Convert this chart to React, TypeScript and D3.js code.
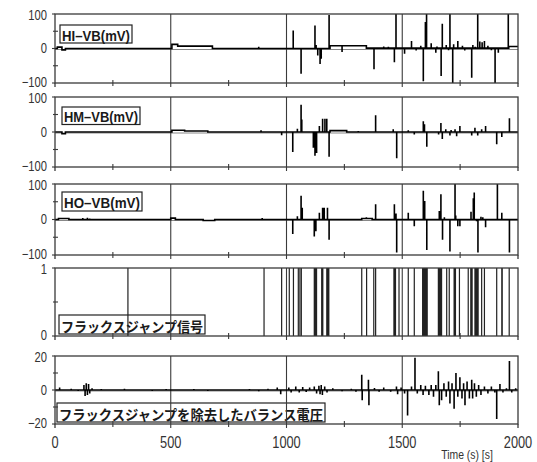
import React from 'react';
import * as d3 from 'd3';

// time axis
const xTicks = [0, 500, 1000, 1500, 2000];
const xMinor = [250, 750, 1250, 1750];

// HI-VB (mV): baseline steps and spikes [time, value]
const hiLevels: [number, number][] = [[0, 0], [10, 4], [30, -4], [45, 0], [505, 12], [530, 7], [680, 0], [1188, 8], [1345, 1], [1960, 6]];
const hiSpikes: [number, number][] = [
  [880, 5], [1029, 52], [1063, -73], [1123, 67], [1128, 10], [1135, -20], [1145, -45], [1150, -30],
  [1184, 97], [1240, -10], [1378, -60], [1420, 6], [1440, 5], [1466, -40], [1473, 100], [1510, -15],
  [1540, 22], [1560, -6], [1580, 8], [1591, -95], [1600, 77], [1605, 100], [1625, 15], [1645, -12],
  [1650, 6], [1668, -80], [1673, 72], [1690, 10], [1700, -5], [1706, 100], [1718, -100], [1722, 12],
  [1740, 22], [1760, 8], [1770, -6], [1800, -85], [1805, 10], [1815, 5], [1826, 100], [1835, 20],
  [1845, 18], [1855, 22], [1870, 8], [1885, -5], [1901, -100], [1915, -12], [1958, 100],
];

// HM-VB (mV)
const hmLevels: [number, number][] = [[0, 0], [30, -5], [45, 0], [505, 5], [560, 3], [660, 0], [1188, 4], [1260, 0]];
const hmSpikes: [number, number][] = [
  [890, 5], [979, -9], [1027, -57], [1047, 9], [1063, 78], [1066, 36], [1116, -45], [1123, -68],
  [1130, -60], [1142, 17], [1156, 38], [1166, 38], [1174, 38], [1184, -71], [1310, 3], [1385, 48],
  [1461, 8], [1476, -75], [1526, 5], [1552, -7], [1591, 31], [1596, 22], [1606, -42], [1657, -7],
  [1667, 26], [1673, -20], [1688, 8], [1706, -10], [1711, 6], [1728, 8], [1735, -12], [1749, 17],
  [1800, -10], [1814, 12], [1826, -10], [1843, 8], [1860, 17], [1908, -35], [1930, -14], [1963, 39],
];

// HO-VB (mV)
const hoLevels: [number, number][] = [[0, 0], [15, 3], [60, 0], [500, 4], [520, 0], [640, -3], [690, 0], [1325, 3], [1370, 0]];
const hoSpikes: [number, number][] = [
  [120, 4], [130, -2], [140, 5], [150, 3], [895, 4], [1027, -41], [1047, 9], [1063, 67], [1068, 33],
  [1120, -48], [1127, -33], [1142, 19], [1156, 33], [1163, 33], [1177, 33], [1184, -57], [1345, 6],
  [1385, 43], [1466, 43], [1473, 17], [1476, -93], [1526, 19], [1552, -19], [1591, 81], [1597, 52],
  [1606, -86], [1660, 24], [1667, 71], [1674, -57], [1682, 6], [1706, -90], [1728, 100], [1731, 11],
  [1740, -19], [1749, -19], [1797, 22], [1807, 60], [1811, 76], [1821, -5], [1827, -93], [1840, 8],
  [1848, 6], [1860, -22], [1911, 100], [1930, 19], [1963, -93],
];

// flux jump signal: start / end times of each jump
const jumpStart = [315, 903, 979, 1012, 1030, 1051, 1058, 1064, 1120, 1152, 1174, 1325, 1346, 1377, 1385, 1464, 1486, 1526, 1552, 1588, 1656, 1692, 1703, 1724, 1747, 1785, 1796, 1814, 1843, 1855, 1908, 1930, 1962];
const jumpEnd = [315, 903, 979, 1012, 1030, 1051, 1058, 1068, 1135, 1162, 1188, 1325, 1346, 1381, 1385, 1476, 1486, 1526, 1552, 1613, 1675, 1692, 1703, 1735, 1747, 1785, 1807, 1833, 1843, 1855, 1908, 1937, 1962];

// balance voltage with flux jumps removed
const balLevels: [number, number][] = [[0, 0]];
const balSpikes: [number, number][] = [
  [20, 1.5], [40, -0.5], [70, 0.8], [100, -0.6], [125, 3], [130, -3.5], [135, 4], [140, -3], [145, 3.5],
  [150, -2], [160, 1], [200, 0.6], [260, -0.5], [300, 0.7], [360, 0.5], [420, -0.6], [480, 0.6],
  [540, -0.5], [600, 0.6], [660, -0.6], [720, 0.5], [780, -0.5], [840, 0.6], [880, -0.7], [920, 0.8],
  [960, 1.5], [975, -2.5], [1010, 1.5], [1020, -1.5], [1040, 2], [1055, -1.5], [1070, 1.8], [1085, -1.2],
  [1100, 1.5], [1120, 2], [1130, -2], [1140, 2.5], [1145, -2.5], [1150, 3], [1155, -3], [1165, 2],
  [1175, -1.5], [1200, 1], [1240, -0.8], [1280, 0.8], [1300, -1], [1325, 9], [1327, -6], [1354, 6],
  [1356, -9], [1380, 1.2], [1400, -1], [1420, 1.5], [1450, -1], [1475, 2], [1480, -2.5], [1495, 1.5],
  [1510, -2], [1523, -15], [1540, 2], [1555, 19], [1565, -2], [1580, 3], [1590, -3], [1600, 2.5],
  [1615, -3], [1625, 3], [1635, -4], [1645, 3], [1656, 11], [1660, -9], [1670, -6], [1680, 4],
  [1690, -4], [1700, 5], [1706, -8], [1715, 4], [1724, -11], [1732, 10], [1740, -4], [1749, 7.5],
  [1758, -5], [1765, 4], [1771, -9], [1780, 5], [1790, -5], [1800, 6], [1804, -5], [1812, 4],
  [1820, -4], [1830, 3], [1840, -3], [1855, 2], [1870, -2], [1885, 2], [1900, -1.5], [1908, -17],
  [1922, 3.5], [1935, -1.5], [1950, 1], [1963, 17], [1973, -1.5], [1990, 1],
];

const SANS = '"Liberation Sans", Arial, sans-serif';
const JP = '"Noto Sans CJK JP", sans-serif';
const FRAME = '#3a3a3a';

const x = d3.scaleLinear().domain([0, 2000]).range([55, 518]);

type Panel = {
  top: number; bottom: number; domain: [number, number];
  ticks: number[]; minor: number[]; labels: string[];
  box: [number, number, number, number]; title: string; jp?: boolean;
};

const panels: Panel[] = [
  { top: 14, bottom: 83, domain: [-100, 100], ticks: [100, 0, -100], minor: [50, -50], labels: ['100', '0', '\u2212100'], box: [60, 25, 72, 18], title: 'HI\u2013VB(mV)' },
  { top: 97, bottom: 167, domain: [-100, 100], ticks: [100, 0, -100], minor: [50, -50], labels: ['100', '0', '\u2212100'], box: [62, 107, 78, 17.5], title: 'HM\u2013VB(mV)' },
  { top: 184, bottom: 255, domain: [-100, 100], ticks: [100, 0, -100], minor: [50, -50], labels: ['100', '0', '\u2212100'], box: [62, 192, 80, 19], title: 'HO\u2013VB(mV)' },
  { top: 268, bottom: 336, domain: [0, 1], ticks: [1, 0], minor: [0.5], labels: ['1', '0'], box: [59, 315, 146, 19], title: 'フラックスジャンプ信号', jp: true },
  { top: 356, bottom: 424, domain: [-20, 20], ticks: [20, 0, -20], minor: [10, -10], labels: ['20', '0', '\u221220'], box: [57, 403, 268, 19], title: 'フラックスジャンプを除去したバランス電圧', jp: true },
];

const buildTrace = (levels: [number, number][], spikes: [number, number][]) => {
  const levelAt = (t: number) => {
    let v = levels[0][1];
    levels.forEach(([s, l]) => { if (s <= t) v = l; });
    return v;
  };
  const events: { t: number; pts: [number, number][] }[] = [];
  levels.slice(1).forEach(([s, l], i) => events.push({ t: s, pts: [[s, levels[i][1]], [s, l]] }));
  spikes.forEach(([t, v]) => { const b = levelAt(t); events.push({ t, pts: [[t, b], [t, v], [t, b]] }); });
  events.sort((a, b) => a.t - b.t);
  const pts: [number, number][] = [[0, levels[0][1]]];
  events.forEach(e => pts.push(...e.pts));
  pts.push([2000, levelAt(2000)]);
  return pts;
};

const traces = [
  buildTrace(hiLevels, hiSpikes),
  buildTrace(hmLevels, hmSpikes),
  buildTrace(hoLevels, hoSpikes),
  null,
  buildTrace(balLevels, balSpikes),
];

// condensed text, anchored at (x, y)
const Narrow = ({ x, y, anchor, size, children, weight }: any) => (
  <text transform={`translate(${x},${y}) scale(0.8,1)`} textAnchor={anchor} dominantBaseline="central"
    fontFamily={SANS} fontSize={size} fontWeight={weight} fill="#333">{children}</text>
);

export default function App() {
  return (
    <svg width={537} height={462} style={{ display: 'block', position: 'absolute', left: 0, top: 0, background: '#fff' }}>
      <rect x={0} y={0} width={537} height={462} fill="#fff" />
      {panels.map((p, i) => {
        const y = d3.scaleLinear().domain(p.domain).range([p.bottom, p.top]).clamp(true);
        const tr = traces[i];
        const path = tr ? d3.line<[number, number]>().x(d => x(d[0])).y(d => y(d[1]))(tr) : null;
        const [bx, by, bw, bh] = p.box;
        return (
          <g key={i}>
            <rect x={bx} y={by} width={bw} height={bh} fill="#fff" stroke="#222" strokeWidth={1.2} />
            <text x={bx + 2} y={by + bh / 2 + 1} dominantBaseline="central" fontFamily={p.jp ? JP : SANS}
              fontWeight="bold" fontSize={p.jp ? 14 : 15} fill="#1a1a1a"
              textLength={bw - 4} lengthAdjust="spacingAndGlyphs">{p.title}</text>
            {p.domain[0] < 0 && (
              <line x1={x(0)} x2={x(2000)} y1={y(0) + 1} y2={y(0) + 1} stroke="#888" strokeWidth={1} />
            )}
            {[500, 1000, 1500].map(t => (
              <line key={t} x1={x(t)} x2={x(t)} y1={p.top} y2={p.bottom + 4} stroke={FRAME} strokeWidth={1.1} />
            ))}
            {xMinor.map(t => (
              <line key={t} x1={x(t)} x2={x(t)} y1={p.bottom - 3} y2={p.bottom + 3} stroke={FRAME} strokeWidth={1.1} />
            ))}
            {path && <path d={path} fill="none" stroke="#000" strokeWidth={1.6} strokeLinejoin="miter" />}
            {i === 3 && jumpStart.map((s, k) => {
              const w = Math.max(1.2, x(jumpEnd[k]) - x(s));
              return <rect key={k} x={x(s) - 0.6} width={w} y={y(1)} height={y(0) - y(1)} fill="#222" />;
            })}
            <rect x={x(0)} y={p.top} width={x(2000) - x(0)} height={p.bottom - p.top} fill="none" stroke={FRAME} strokeWidth={1.3} />
            <line x1={x(0)} x2={x(0)} y1={p.bottom} y2={p.bottom + 4} stroke={FRAME} strokeWidth={1.3} />
            <line x1={x(2000)} x2={x(2000)} y1={p.bottom} y2={p.bottom + 4} stroke={FRAME} strokeWidth={1.3} />
            {p.minor.map(v => (
              <line key={v} x1={x(0) - 2} x2={x(0) + 3} y1={y(v)} y2={y(v)} stroke={FRAME} strokeWidth={1.1} />
            ))}
            {p.ticks.map((v, k) => {
              const shift = k === 0 ? 1.5 : k === p.ticks.length - 1 ? -0.5 : 0.5;
              return (
                <g key={v}>
                  <line x1={x(0) - 3} x2={x(0)} y1={y(v)} y2={y(v)} stroke={FRAME} strokeWidth={1.1} />
                  <Narrow x={47} y={y(v) + shift} anchor="end" size={14}>{p.labels[k]}</Narrow>
                </g>
              );
            })}
          </g>
        );
      })}
      {xTicks.map(t => (
        <Narrow key={t} x={x(t)} y={442} anchor="middle" size={16}>{t}</Narrow>
      ))}
      <Narrow x={467} y={454} anchor="middle" size={13}>Time (s) [s]</Narrow>
    </svg>
  );
}
